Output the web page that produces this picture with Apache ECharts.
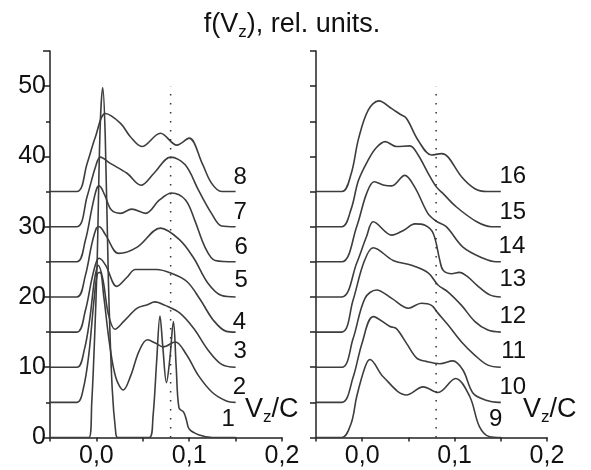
<!DOCTYPE html>
<html><head><meta charset="utf-8">
<script src="https://cdn.jsdelivr.net/npm/echarts@6/dist/echarts.min.js"></script>
<style>html,body{margin:0;padding:0;background:#fff}#c{width:591px;height:470px}</style>
</head><body><div id="c"></div>
<script>
// ---- data (x = Vz/C, y = f(Vz) rel. units, curves offset by 5) ----
const c1 = [[-0.05,0],[-0.008,0],[-0.005,5],[-0.002,14],[0.0008,25],[0.004,44],[0.0068,49.8],[0.0095,43],[0.013,22],[0.017,7],[0.021,0.5],[0.023,0],[0.057,0],[0.061,3],[0.065,11],[0.0685,17.3],[0.0715,13],[0.0755,7.8],[0.079,11],[0.083,16.5],[0.086,10],[0.089,4.2],[0.094,3.6],[0.097,2.5],[0.1,1.2],[0.11,0.4],[0.125,0],[0.15,0]];
const c2 = [[-0.05,5],[-0.021,5],[-0.014,7],[-0.008,12],[-0.003,19],[0.001,23.3],[0.004,23.5],[0.008,20],[0.014,13.5],[0.021,8.5],[0.029,6.75],[0.037,8.8],[0.046,12.3],[0.055,13.9],[0.064,13.4],[0.072,12.9],[0.085,13.6],[0.097,11.8],[0.11,8.8],[0.125,6.4],[0.14,5.2],[0.15,5]];
const c3 = [[-0.05,10],[-0.021,10],[-0.013,12.5],[-0.007,17],[-0.002,22.5],[0.002,24.5],[0.007,22.5],[0.013,17.5],[0.02,15.4],[0.03,16.6],[0.044,18.4],[0.055,18.9],[0.063,19.3],[0.074,18.8],[0.09,17.7],[0.105,15.5],[0.12,12.5],[0.135,10.4],[0.15,10]];
const c4 = [[-0.05,15],[-0.021,15],[-0.012,18],[-0.005,22.5],[0.0,25],[0.003,25.5],[0.01,24.5],[0.022,21.5],[0.033,22.8],[0.042,23.9],[0.065,23.9],[0.08,23.4],[0.0975,22.2],[0.112,19.6],[0.126,16.7],[0.14,15.1],[0.15,15]];
const c5 = [[-0.05,20],[-0.021,20],[-0.012,23],[-0.005,27.5],[0.0,29.8],[0.003,30],[0.01,28.8],[0.024,26.2],[0.044,27.1],[0.069,29.8],[0.09,28.1],[0.105,25.5],[0.12,22],[0.135,20.2],[0.15,20]];
const c6 = [[-0.05,25],[-0.021,25],[-0.012,28],[-0.005,32.5],[0.0,35.3],[0.003,35.8],[0.009,34.5],[0.016,32.4],[0.026,31.9],[0.038,32.5],[0.053,31.9],[0.068,33.8],[0.081,34.8],[0.096,33.8],[0.106,30.9],[0.117,27.1],[0.128,25.2],[0.15,25]];
const c7 = [[-0.05,30],[-0.021,30],[-0.01,34.3],[-0.001,38.5],[0.0043,39.9],[0.015,39.0],[0.033,37.6],[0.048,35.9],[0.062,37.6],[0.08,39.9],[0.0957,38.8],[0.11,35.2],[0.124,31.9],[0.135,30.1],[0.15,30]];
const c8 = [[-0.05,35],[-0.021,35],[-0.01,39],[-0.001,42.8],[0.0097,46.1],[0.026,44.7],[0.0366,42.8],[0.049,41.4],[0.069,43.3],[0.0868,41.6],[0.1,42.6],[0.114,39],[0.124,36.2],[0.135,35],[0.15,35]];

const c9  = [[-0.05,0],[-0.022,0],[-0.012,2],[-0.006,5.8],[0.003,10],[0.0083,11.1],[0.0227,8.65],[0.048,6.05],[0.066,7.2],[0.082,6.4],[0.101,8.4],[0.1165,5.8],[0.127,1.5],[0.138,0.1],[0.15,0]];
const c10 = [[-0.05,5],[-0.022,5],[-0.01,8.5],[0.0,13.5],[0.012,17.2],[0.030,15.8],[0.037,15.5],[0.048,13.4],[0.059,11.3],[0.070,10.8],[0.084,10.5],[0.098,10.9],[0.109,9.6],[0.12,6.3],[0.134,5.3],[0.147,5],[0.15,5]];
const c11 = [[-0.05,10],[-0.022,10],[-0.01,14],[0.003,19.8],[0.0156,21.0],[0.032,19.8],[0.05,18.4],[0.064,19.1],[0.075,18.8],[0.082,17.7],[0.093,16],[0.1075,13.6],[0.122,11.7],[0.136,10.3],[0.15,10]];
const c12 = [[-0.05,15],[-0.022,15],[-0.01,19.5],[0.002,25],[0.012,27],[0.0335,25.2],[0.0534,24.5],[0.0717,23.4],[0.082,21.7],[0.093,20.7],[0.1075,18.8],[0.122,16.5],[0.136,15.3],[0.15,15]];
const c13 = [[-0.05,20],[-0.022,20],[-0.006,24.8],[0.0047,28.6],[0.012,30.7],[0.032,28.8],[0.045,29.5],[0.057,30.4],[0.068,30.2],[0.077,29.0],[0.084,25.2],[0.0876,23.8],[0.097,23.3],[0.105,23.5],[0.113,23.0],[0.124,21.7],[0.138,20.3],[0.15,20]];
const c14 = [[-0.05,25],[-0.022,25],[-0.006,30],[0.0047,34.7],[0.013,36.4],[0.024,35.9],[0.032,35.8],[0.046,37.3],[0.057,35.6],[0.071,31.9],[0.08,30.8],[0.091,30.0],[0.109,27.1],[0.131,25.5],[0.145,25],[0.15,25]];
const c15 = [[-0.05,30],[-0.022,30],[-0.012,32.5],[-0.004,36.6],[0.0065,39.5],[0.015,41.2],[0.025,42.1],[0.037,41.4],[0.0516,41.5],[0.0605,40.2],[0.0714,37.6],[0.080,35.7],[0.0876,34.7],[0.102,32.8],[0.124,30.7],[0.14,30],[0.15,30]];
const c16 = [[-0.05,35],[-0.022,35],[-0.012,37.5],[-0.004,42.5],[0.0065,46.6],[0.018,47.9],[0.032,46.8],[0.041,46.0],[0.048,45.4],[0.0605,42.3],[0.075,40.2],[0.086,40.4],[0.093,39.9],[0.1075,37.1],[0.122,35.4],[0.135,35],[0.15,35]];

const leftCurves = [c1,c2,c3,c4,c5,c6,c7,c8];
const rightCurves = [c9,c10,c11,c12,c13,c14,c15,c16];
const leftNames = ['1','2','3','4','5','6','7','8'];
const rightNames = ['9','10','11','12','13','14','15','16'];
const dottedX = 0.08, dottedTop = 50;
const xTicks = [-0.05, 0.2, 0.05]; // min, max, interval
const yRange = [0, 55];

// ---- chart ----
const FONT = 'Liberation Sans, Arial, sans-serif';
const INK = '#222';
const CURVE = '#3d3d3d';
const chart = echarts.init(document.getElementById('c'), null, {renderer:'canvas'});

function xAxis(g){
  return {type:'value', gridIndex:g, min:xTicks[0], max:xTicks[1], interval:xTicks[2],
    axisLine:{onZero:false, lineStyle:{color:INK, width:1.5}},
    axisTick:{inside:false, length:4, lineStyle:{color:INK, width:1.5}},
    splitLine:{show:false},
    axisLabel:{margin:6, color:'#111', fontFamily:FONT, fontSize:25,
      formatter:v=>{const t=Math.round(v*100); return (t>=0 && t%10===0)? (t/100).toFixed(1).replace('.',','):'';}}};
}
const opt = {
  animation:false,
  backgroundColor:'#fff',
  grid:[{left:50, top:51, width:232, height:386.5},{left:316, top:51, width:231, height:386.5}],
  xAxis:[xAxis(0), xAxis(1)],
  yAxis:[
    {type:'value', gridIndex:0, min:yRange[0], max:yRange[1], interval:10, position:'left',
     axisLine:{show:true, onZero:false, lineStyle:{color:INK, width:1.5}},
     axisTick:{show:true, length:7, lineStyle:{color:INK, width:1.5}},
     splitLine:{show:false},
     axisLabel:{margin:4, color:'#111', fontFamily:FONT, fontSize:25, formatter:v=>(v%10===0? String(v):'')}},
    {type:'value', gridIndex:0, min:yRange[0], max:yRange[1], interval:5, position:'left',
     axisLine:{show:false, onZero:false}, axisTick:{show:true, length:4, lineStyle:{color:INK, width:1.5}},
     splitLine:{show:false}, axisLabel:{show:false}},
    {type:'value', gridIndex:1, min:yRange[0], max:yRange[1], interval:5, position:'left',
     axisLine:{show:true, onZero:false, lineStyle:{color:INK, width:1.5}},
     axisTick:{show:true, length:6, lineStyle:{color:INK, width:1.5}},
     splitLine:{show:false}, axisLabel:{show:false}}
  ],
  series:[]
};
leftCurves.forEach((d,i)=>opt.series.push({type:'line', name:leftNames[i], xAxisIndex:0, yAxisIndex:0, data:d, smooth:0.35, showSymbol:false, lineStyle:{color:CURVE, width:1.6}}));
rightCurves.forEach((d,i)=>opt.series.push({type:'line', name:rightNames[i], xAxisIndex:1, yAxisIndex:2, data:d, smooth:0.35, showSymbol:false, lineStyle:{color:CURVE, width:1.6}}));
[[0,0],[1,2]].forEach(([xi,yi])=>opt.series.push({type:'line', xAxisIndex:xi, yAxisIndex:yi, data:[[dottedX,0],[dottedX,dottedTop]], showSymbol:false, lineStyle:{color:'#333', width:1.5, type:[1.5,7.5]}}));
chart.setOption(opt);

// labels placed at data coordinates
const lblL = [[0.142,2.6],[0.154,7.2],[0.155,12.3],[0.154,16.4],[0.156,22.3],[0.156,27.1],[0.155,32.1],[0.155,37.05]];
const lblR = [[0.1445,2.6],[0.163,7.2],[0.164,12.2],[0.163,17.2],[0.163,22.5],[0.162,27.2],[0.163,32.1],[0.163,37.2]];
const graphics = [];
lblL.forEach((p,i)=>{const q=chart.convertToPixel({xAxisIndex:0,yAxisIndex:0},p);
  graphics.push({type:'text', x:q[0], y:q[1], style:{text:leftNames[i], font:'24px '+FONT, fill:'#111', align:'center', verticalAlign:'middle'}});});
lblR.forEach((p,i)=>{const q=chart.convertToPixel({xAxisIndex:1,yAxisIndex:2},p);
  graphics.push({type:'text', x:q[0], y:q[1], style:{text:rightNames[i], font:'24px '+FONT, fill:'#111', align:'center', verticalAlign:'middle'}});});
const rich = {a:{fontSize:27, fontFamily:FONT, fill:'#111', lineHeight:30}, s:{fontSize:17, fontFamily:FONT, fill:'#111', lineHeight:30, padding:[14,0,0,0]}};
graphics.push({type:'text', x:292, y:25, style:{text:'{a|f(V}{s|z}{a|), rel. units.}', rich:rich, align:'center', verticalAlign:'middle'}});
graphics.push({type:'text', x:245, y:410, style:{text:'{a|V}{s|z}{a|/C}', rich:rich, align:'left', verticalAlign:'middle'}});
graphics.push({type:'text', x:523, y:410, style:{text:'{a|V}{s|z}{a|/C}', rich:rich, align:'left', verticalAlign:'middle'}});
chart.setOption({graphic:graphics});
</script></body></html>
